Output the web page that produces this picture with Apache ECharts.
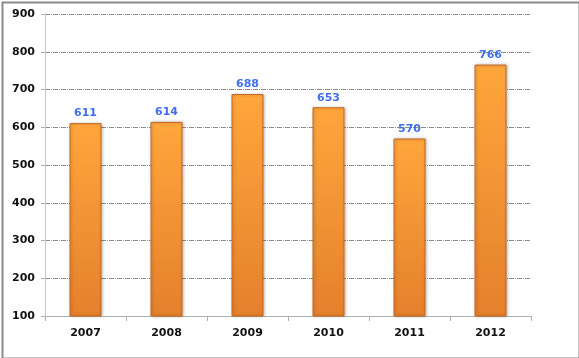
<!DOCTYPE html>
<html><head><meta charset="utf-8">
<script src="https://cdn.jsdelivr.net/npm/echarts@6/dist/echarts.min.js"></script>
<style>html,body{margin:0;padding:0;background:#fff}#c{width:579px;height:358px}</style>
</head><body><div id="c"></div>
<script>
const categories = ['2007','2008','2009','2010','2011','2012'];
const values = [611, 614, 688, 653, 570, 766];
const yTicks = [100, 900, 100]; // min, max, interval

const chart = echarts.init(document.getElementById('c'));
chart.setOption({
  animation: false,
  backgroundColor: '#fff',
  graphic: [{
    type: 'rect', left: 0, top: 0,
    shape: { x: 1, y: 1, width: 577, height: 356 },
    style: { fill: 'none', stroke: '#8a8a8a', lineWidth: 2 }
  }],
  grid: { left: 45, right: 48, top: 14, bottom: 42 },
  xAxis: {
    type: 'category', data: categories,
    axisLine: { lineStyle: { color: '#b0b0b0', width: 1 } },
    axisTick: { show: true, length: 5, lineStyle: { color: '#b0b0b0' } },
    axisLabel: { color: '#111', fontFamily: 'DejaVu Sans', fontWeight: 'bold', fontSize: 11, margin: 12 }
  },
  yAxis: {
    type: 'value', min: yTicks[0], max: yTicks[1], interval: yTicks[2],
    axisLine: { show: true, lineStyle: { color: '#c8c8c8' } },
    axisTick: { show: true, length: 4, lineStyle: { color: '#b0b0b0' } },
    axisLabel: { color: '#111', fontFamily: 'DejaVu Sans', fontWeight: 'bold', fontSize: 11, margin: 10 },
    splitLine: { lineStyle: { color: '#8c8c8c', type: [5, 1, 1, 1] } }
  },
  series: [{
    type: 'bar', data: values, barWidth: 32,
    itemStyle: {
      color: new echarts.graphic.LinearGradient(0, 0, 0, 1, [
        { offset: 0, color: '#FFA63C' },
        { offset: 1, color: '#E5802C' }
      ]),
      borderColor: '#C8691E', borderWidth: 1,
      shadowColor: 'rgba(0,0,0,0.25)', shadowBlur: 3, shadowOffsetX: 1
    },
    label: {
      show: true, position: 'top', distance: 4,
      color: '#3F6FF0', fontFamily: 'DejaVu Sans', fontWeight: 'bold', fontSize: 11
    }
  }]
});
</script></body></html>
